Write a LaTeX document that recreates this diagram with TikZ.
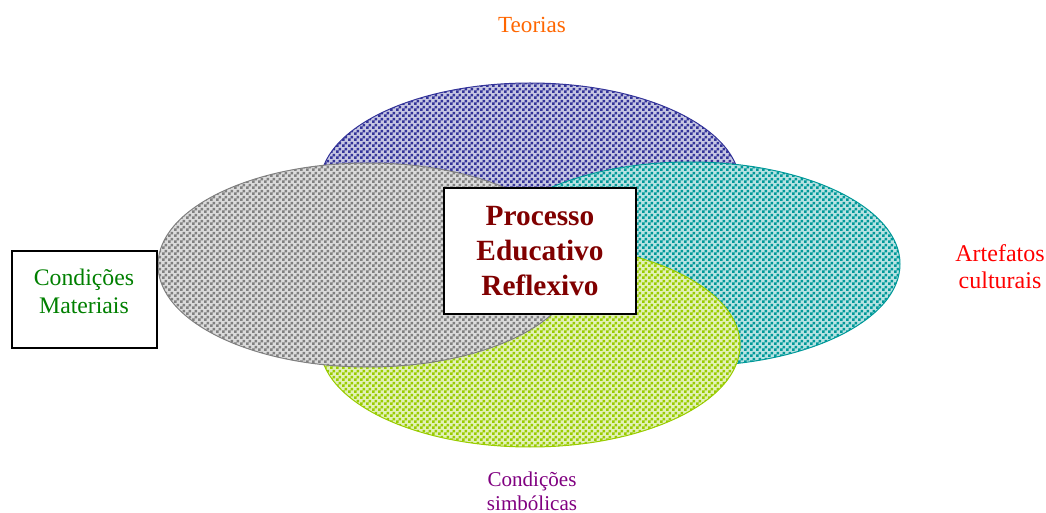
\documentclass[tikz,border=0pt]{standalone}
\usepackage{fontspec}
\setmainfont{Liberation Serif}
\usetikzlibrary{patterns,shapes.geometric}
\pgfdeclarepatternformonly{mycheck}{\pgfpointorigin}{\pgfqpoint{4.5pt}{4.5pt}}{\pgfqpoint{4.5pt}{4.5pt}}{%
  \pgfpathrectangle{\pgfpointorigin}{\pgfqpoint{2.25pt}{2.25pt}}%
  \pgfpathrectangle{\pgfqpoint{2.25pt}{2.25pt}}{\pgfqpoint{2.25pt}{2.25pt}}%
  \pgfusepath{fill}}
\definecolor{cblue}{RGB}{51,51,153}
\definecolor{cgray}{RGB}{128,128,128}
\definecolor{cteal}{RGB}{0,153,153}
\definecolor{cgreen}{RGB}{153,204,0}
\definecolor{torange}{RGB}{255,102,0}
\definecolor{tred}{RGB}{255,0,0}
\definecolor{tgreen}{RGB}{0,128,0}
\definecolor{tpurple}{RGB}{128,0,128}
\definecolor{tdark}{RGB}{128,0,0}
\tikzset{
  blob/.style={ellipse, inner sep=0pt, minimum width=315pt, minimum height=153pt,
    draw=#1, line width=0.75pt, preaction={fill=#1!28!white}, pattern=mycheck, pattern color=#1},
  lbl/.style={align=center, inner sep=0pt},
  frame/.style={draw=black, line width=1.5pt, fill=white, inner sep=0pt}
}
\begin{document}
\begin{tikzpicture}[x=0.75pt, y=-0.75pt]
\useasboundingbox (0,0) rectangle (1046,513);
\node[blob=cblue]  (teorE) at (530,185) {};
\node[blob=cteal]  (artE)  at (690,264) {};
\node[blob=cgreen] (simE)  at (530,345) {};
\node[blob=cgray]  (matE)  at (368,265) {};
\node[frame, minimum width=144pt, minimum height=94.5pt, align=center,
      text=tdark, font=\bfseries\fontsize{22pt}{26.25pt}\selectfont] (proc) at (540,251)
      {Processo\\Educativo\\Reflexivo};
\node[frame, minimum width=108.75pt, minimum height=72.75pt] (lbox) at (84.5,299.5) {};
\node[lbl, text=tgreen, font=\fontsize{17.8pt}{21pt}\selectfont] (mat) at (84,291) {Condições\\Materiais};
\node[lbl, text=torange, font=\fontsize{17.3pt}{20pt}\selectfont] (teor) at (532,25) {Teorias};
\node[lbl, text=tred, font=\fontsize{18pt}{20.25pt}\selectfont] (art) at (1000,266.5) {Artefatos\\culturais};
\node[lbl, text=tpurple, font=\fontsize{15.8pt}{18pt}\selectfont] (sim) at (532,491) {Condições\\simbólicas};
\end{tikzpicture}
\end{document}
